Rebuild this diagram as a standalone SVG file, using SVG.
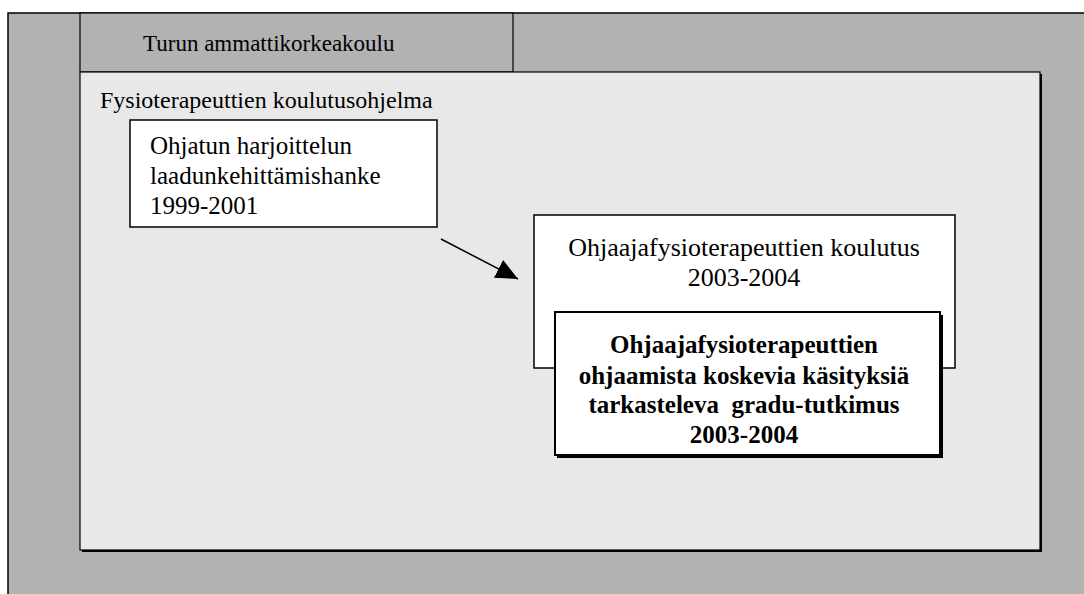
<svg xmlns="http://www.w3.org/2000/svg" width="1084" height="594" viewBox="0 0 1084 594">
<style>
.t{font-family:"Liberation Serif","Times New Roman",serif;font-size:25px;fill:#000}
.h{font-size:24px}
.k{font-size:26px}
.b{font-weight:bold}
.box{fill:#fff;stroke:#000;stroke-width:1.5}
</style>
<defs>
<marker id="ah" markerWidth="24" markerHeight="20" refX="22" refY="10" orient="auto" markerUnits="userSpaceOnUse" viewBox="0 0 24 20">
<path d="M0,0 L22,10 L0,20 Z" fill="#000"/>
</marker>
</defs>
<rect width="1084" height="594" fill="#fff"/>
<g id="outer">
<rect x="8" y="13" width="1090" height="600" fill="#b2b2b2" stroke="#000" stroke-width="1.5"/>
</g>
<g id="tab">
<rect x="80" y="13" width="433" height="59" fill="#b2b2b2" stroke="#000" stroke-width="1.2"/>
<text class="t" style="font-size:23px" x="143" y="51">Turun ammattikorkeakoulu</text>
</g>
<g id="program">
<rect x="82" y="74" width="960" height="478" fill="#000"/>
<rect x="80" y="72" width="960" height="478" fill="#e8e8e8" stroke="#000" stroke-width="1.2"/>
<text class="t h" x="100" y="108">Fysioterapeuttien koulutusohjelma</text>
</g>
<g id="hanke">
<rect class="box" x="130" y="120" width="307" height="107"/>
<text class="t" x="150" y="154">Ohjatun harjoittelun</text>
<text class="t" x="150" y="184">laadunkehittämishanke</text>
<text class="t" x="150" y="214">1999-2001</text>
</g>
<g id="koulutus">
<rect class="box" x="534" y="215" width="421" height="153"/>
<text class="t k" x="744" y="256" text-anchor="middle">Ohjaajafysioterapeuttien koulutus</text>
<text class="t k" x="744" y="286" text-anchor="middle">2003-2004</text>
</g>
<g id="gradu">
<rect x="557" y="315" width="386" height="143" fill="#000"/>
<rect x="555" y="312" width="385" height="143" fill="#fff" stroke="#000" stroke-width="2"/>
<text class="t b" x="744" y="353" text-anchor="middle">Ohjaajafysioterapeuttien</text>
<text class="t b" x="744" y="384" text-anchor="middle">ohjaamista koskevia käsityksiä</text>
<text class="t b" x="744" y="413" text-anchor="middle" xml:space="preserve">tarkasteleva  gradu-tutkimus</text>
<text class="t b" x="744" y="443" text-anchor="middle">2003-2004</text>
</g>
<g id="connectors">
<line x1="441" y1="239" x2="518" y2="279" stroke="#000" stroke-width="1.5" marker-end="url(#ah)"/>
</g>
</svg>
